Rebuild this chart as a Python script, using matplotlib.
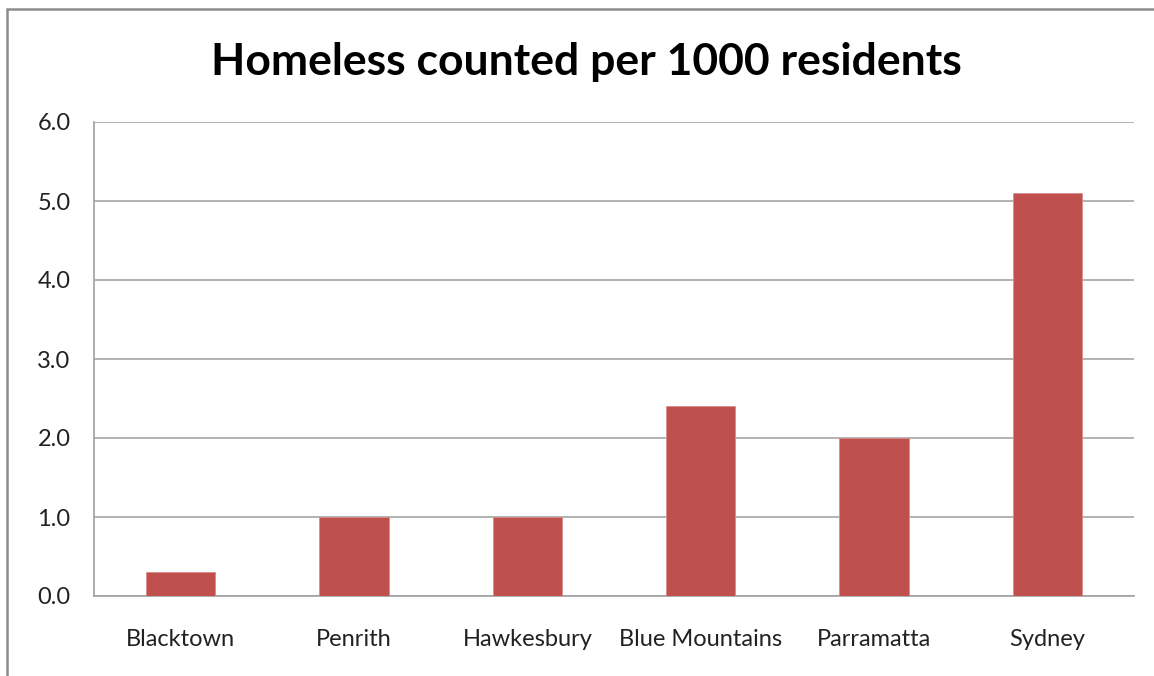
import matplotlib
matplotlib.use("Agg")
import matplotlib.pyplot as plt
from matplotlib.patches import Rectangle

categories = ["Blacktown", "Penrith", "Hawkesbury", "Blue Mountains", "Parramatta", "Sydney"]
values = [0.3, 1.0, 1.0, 2.4, 2.0, 5.1]
yticks = [0.0, 1.0, 2.0, 3.0, 4.0, 5.0, 6.0]
title = "Homeless counted per 1000 residents"

W, H = 1154, 676
fig = plt.figure(figsize=(W / 100, H / 100), dpi=100)
plt.rcParams['font.family'] = ['Lato', 'DejaVu Sans']

# outer chart border (cropped at right and bottom)
fig.patches.append(Rectangle((6.5 / W, -0.1), 1.2, 1.1 - 8.5 / H,
                             transform=fig.transFigure, fill=False,
                             edgecolor="#8c8c8c", linewidth=1.8))

left, right, top, bottom = 94, 1134, 122, 596
ax = fig.add_axes([left / W, 1 - bottom / H, (right - left) / W, (bottom - top) / H])

x = range(len(categories))
ax.bar(x, values, width=0.40, color="#C0504D", edgecolor="#d98c8a", linewidth=0.6, zorder=3)

ax.set_xlim(-0.5, len(categories) - 0.5)
ax.set_ylim(0, 6)
ax.set_yticks(yticks)
ax.set_yticklabels([f"{v:.1f}" for v in yticks])
ax.set_xticks(list(x))
ax.set_xticklabels(categories)
ax.yaxis.grid(True, color="#a6a6a6", linewidth=1.2, zorder=0)
ax.set_axisbelow(True)
for s in ["top", "right"]:
    ax.spines[s].set_visible(False)
for s in ["left", "bottom"]:
    ax.spines[s].set_color("#a0a0a0")
    ax.spines[s].set_linewidth(1.2)
ax.tick_params(axis="both", length=0, labelsize=17, colors="#222222")
ax.tick_params(axis="y", pad=17)
ax.tick_params(axis="x", pad=24)

fig.text(586 / W, 1 - 62 / H, title, ha="center", va="center",
         fontsize=32, fontweight="bold", color="black")

fig.savefig("out.png", dpi=100)
